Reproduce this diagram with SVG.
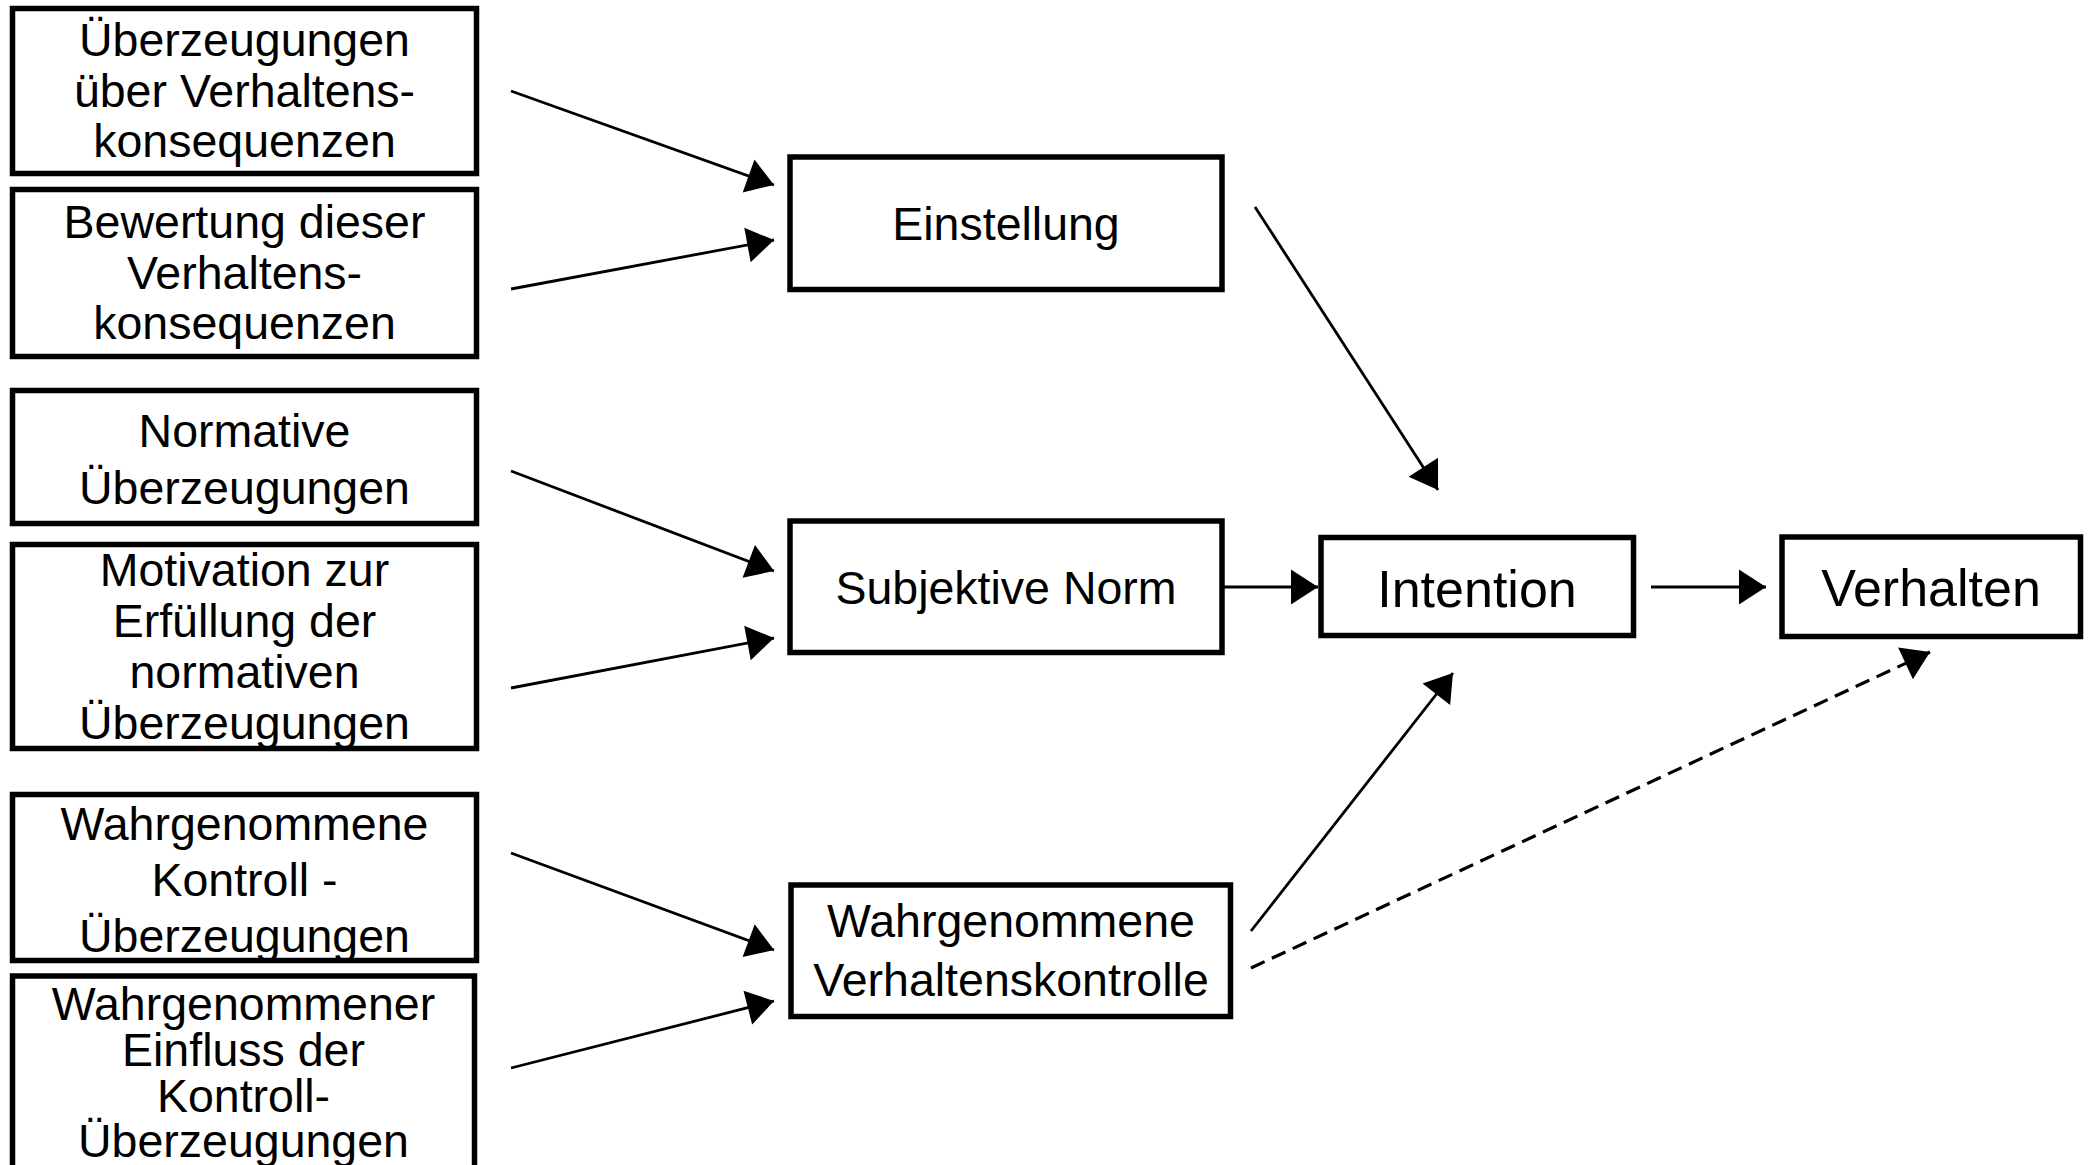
<svg xmlns="http://www.w3.org/2000/svg" width="2091" height="1165" viewBox="0 0 2091 1165">
<style>
.box{fill:#fff;stroke:#000;stroke-width:5.5}
.t{font-family:"Liberation Sans",Arial,sans-serif;font-size:46.5px;text-anchor:middle;fill:#000}
.tb{font-family:"Liberation Sans",Arial,sans-serif;font-size:52px;text-anchor:middle;fill:#000}
.c{stroke:#000;stroke-width:2.8;fill:none;marker-end:url(#ah)}
.d{stroke-width:3.2;stroke-dasharray:15 8}
</style>
<defs>
<marker id="ah" markerUnits="userSpaceOnUse" markerWidth="30" markerHeight="36" refX="27" refY="17.5" orient="auto" overflow="visible">
<path d="M0,0 L27,17.5 L0,35 Z" fill="#000"/>
</marker>
</defs>
<rect width="2091" height="1165" fill="#fff"/>
<g id="n1"><rect class="box" x="12.5" y="8.5" width="464" height="165"/>
<text class="t" x="244.5" y="56">Überzeugungen</text><text class="t" x="244.5" y="107">über Verhaltens-</text><text class="t" x="244.5" y="157">konsequenzen</text></g>
<g id="n2"><rect class="box" x="12.5" y="189.5" width="464" height="167"/>
<text class="t" x="244.5" y="238">Bewertung dieser</text><text class="t" x="244.5" y="289">Verhaltens-</text><text class="t" x="244.5" y="339">konsequenzen</text></g>
<g id="n3"><rect class="box" x="12.5" y="390.5" width="464" height="133"/>
<text class="t" x="244.5" y="447">Normative</text><text class="t" x="244.5" y="504">Überzeugungen</text></g>
<g id="n4"><rect class="box" x="12.5" y="544.5" width="464" height="204"/>
<text class="t" x="244.5" y="586">Motivation zur</text><text class="t" x="244.5" y="637">Erfüllung der</text><text class="t" x="244.5" y="688">normativen</text><text class="t" x="244.5" y="739">Überzeugungen</text></g>
<g id="n5"><rect class="box" x="12.5" y="794.5" width="464" height="166"/>
<text class="t" x="244.5" y="840">Wahrgenommene</text><text class="t" x="244.5" y="896">Kontroll -</text><text class="t" x="244.5" y="952">Überzeugungen</text></g>
<g id="n6"><rect class="box" x="12.5" y="976" width="462" height="230"/>
<text class="t" x="243.5" y="1020">Wahrgenommener</text><text class="t" x="243.5" y="1066">Einfluss der</text><text class="t" x="243.5" y="1112">Kontroll-</text><text class="t" x="243.5" y="1157">Überzeugungen</text></g>
<g id="einstellung"><rect class="box" x="790" y="157" width="432" height="132.5"/>
<text class="t" x="1006" y="240">Einstellung</text></g>
<g id="subjektive-norm"><rect class="box" x="790" y="521" width="432" height="131.5"/>
<text class="t" x="1006" y="604">Subjektive Norm</text></g>
<g id="wvk"><rect class="box" x="791" y="885" width="439.5" height="131.5"/>
<text class="t" x="1011" y="937">Wahrgenommene</text><text class="t" x="1011" y="996">Verhaltenskontrolle</text></g>
<g id="intention"><rect class="box" x="1321" y="537.5" width="312.5" height="98"/>
<text class="tb" x="1477" y="607">Intention</text></g>
<g id="verhalten"><rect class="box" x="1782" y="537" width="298.5" height="99.5"/>
<text class="tb" x="1931" y="606">Verhalten</text></g>
<g id="connectors">
<line class="c" x1="511" y1="91" x2="774" y2="185"/>
<line class="c" x1="511" y1="289" x2="774" y2="240"/>
<line class="c" x1="511" y1="471" x2="774" y2="571"/>
<line class="c" x1="511" y1="688" x2="774" y2="638"/>
<line class="c" x1="511" y1="853" x2="774" y2="950"/>
<line class="c" x1="511" y1="1068" x2="774" y2="1001"/>
<line class="c" x1="1255" y1="207" x2="1438" y2="490"/>
<line class="c" x1="1223" y1="587" x2="1318" y2="587"/>
<line class="c" x1="1651" y1="587" x2="1766" y2="587"/>
<line class="c" x1="1251" y1="931" x2="1453" y2="673"/>
<line class="c d" x1="1251" y1="968" x2="1930" y2="652"/>
</g>
</svg>
